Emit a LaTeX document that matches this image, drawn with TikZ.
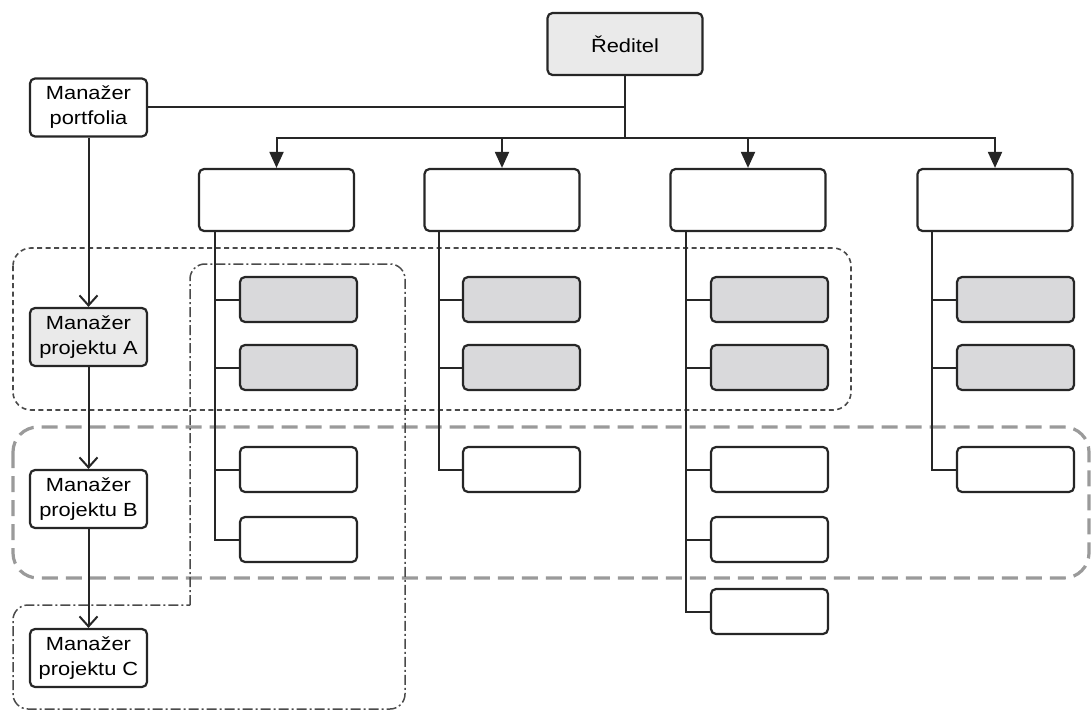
\documentclass[tikz,border=0pt]{standalone}
\usepackage{fontspec}
\setmainfont{Liberation Sans}[FakeStretch=1.15]
\usetikzlibrary{arrows.meta}
\definecolor{edge}{HTML}{262626}
\definecolor{childfill}{HTML}{D9D9DB}
\definecolor{headfill}{HTML}{EAEAEA}
\definecolor{zonegray}{HTML}{9A9A9A}
\definecolor{zonedark}{HTML}{4A4A4A}
\tikzset{
  unit/.style={draw=edge, line width=2.2pt, rounded corners=5pt, fill=white,
    inner sep=0pt, align=center, font=\fontsize{19}{25}\selectfont, text=black},
  topbox/.style={unit, minimum width=155pt, minimum height=62pt},
  subbox/.style={unit, minimum width=117pt, minimum height=45pt},
  mgrbox/.style={unit, minimum width=117pt, minimum height=58pt},
  shaded/.style={fill=childfill},
  link/.style={draw=edge, line width=2pt},
  down/.style={link, -{Triangle[length=16pt,width=14pt]}},
  chain/.style={link, -{Straight Barb[length=10pt,width=18pt]}},
  zoneA/.style={draw=zonedark, line width=1.6pt, dash pattern=on 5pt off 3.5pt, rounded corners=18pt},
  zoneB/.style={draw=zonegray, line width=3.2pt, dash pattern=on 16pt off 8pt, rounded corners=25pt},
  zoneC/.style={draw=zonedark, line width=1.5pt, dash pattern=on 10pt off 3pt on 2pt off 3pt, rounded corners=15pt},
}
\begin{document}
\begin{tikzpicture}[x=1pt,y=-1pt]
\useasboundingbox (0,0) rectangle (1091,711);

% grouping zones
\draw[zoneA] (13,248) rectangle (851,410);
\draw[zoneB] (13,427) rectangle (1089,578);
\draw[zoneC] (190,605) -- (190,264) -- (405,264) -- (405,709) -- (13,709) -- (13,605) -- (190,605);

% director and portfolio manager
\node[topbox, fill=headfill] (dir) at (625,44) {Ředitel};
\node[mgrbox] (pf) at (88.5,107.5) {Manažer\\portfolia};

% project managers
\node[mgrbox, fill=headfill] (pa) at (88.5,337) {Manažer\\projektu A};
\node[mgrbox] (pb) at (88.5,499) {Manažer\\projektu B};
\node[mgrbox] (pc) at (88.5,658) {Manažer\\projektu C};

% departments
\node[topbox] (t1) at (276.5,200) {};
\node[topbox] (t2) at (502,200) {};
\node[topbox] (t3) at (748,200) {};
\node[topbox] (t4) at (995,200) {};

% department members
\node[subbox, shaded] (c11) at (298.5,299.5) {};
\node[subbox, shaded] (c12) at (298.5,367.5) {};
\node[subbox] (c13) at (298.5,469.5) {};
\node[subbox] (c14) at (298.5,539.5) {};

\node[subbox, shaded] (c21) at (521.5,299.5) {};
\node[subbox, shaded] (c22) at (521.5,367.5) {};
\node[subbox] (c23) at (521.5,469.5) {};

\node[subbox, shaded] (c31) at (769.5,299.5) {};
\node[subbox, shaded] (c32) at (769.5,367.5) {};
\node[subbox] (c33) at (769.5,469.5) {};
\node[subbox] (c34) at (769.5,539.5) {};
\node[subbox] (c35) at (769.5,611.5) {};

\node[subbox, shaded] (c41) at (1015.5,299.5) {};
\node[subbox, shaded] (c42) at (1015.5,367.5) {};
\node[subbox] (c43) at (1015.5,469.5) {};

% director to departments
\coordinate (bus) at (625,138);
\draw[link] (dir.south) -- (bus);
\draw[link] (pf.east) -- (pf.east -| dir.south);
\foreach \t in {t1,t2,t3,t4}
  \draw[down] (bus) -| (\t.north);

% department trunks
\foreach \c in {c11,c12,c13,c14}
  \draw[link] ([xshift=17pt]t1.south west) |- (\c.west);
\foreach \c in {c21,c22,c23}
  \draw[link] ([xshift=16pt]t2.south west) |- (\c.west);
\foreach \c in {c31,c32,c33,c34,c35}
  \draw[link] ([xshift=17pt]t3.south west) |- (\c.west);
\foreach \c in {c41,c42,c43}
  \draw[link] ([xshift=16pt]t4.south west) |- (\c.west);

% manager chain
\draw[chain] (pf) -- (pa);
\draw[chain] (pa) -- (pb);
\draw[chain] (pb) -- (pc);
\end{tikzpicture}
\end{document}
